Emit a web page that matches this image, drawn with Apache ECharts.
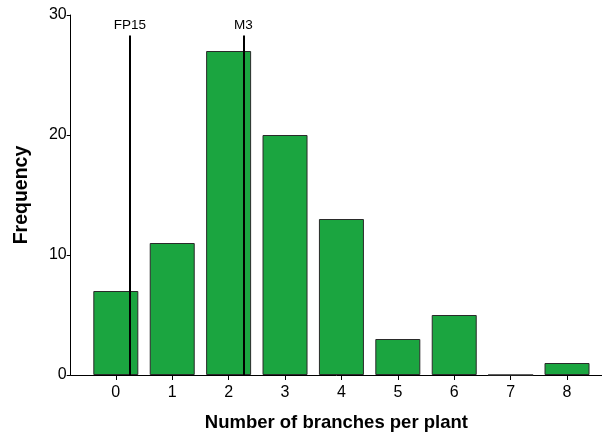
<!DOCTYPE html>
<html>
<head>
<meta charset="utf-8">
<script src="https://cdn.jsdelivr.net/npm/echarts@6/dist/echarts.min.js"></script>
<style>html,body{margin:0;padding:0;background:#fff}#c{width:602px;height:434px}</style>
</head>
<body>
<div id="c"></div>
<script>
var branches = [0, 1, 2, 3, 4, 5, 6, 7, 8];
var frequency = [7, 11, 27, 20, 13, 3, 5, 0, 1];
var markerNames = ['FP15', 'M3'];
var markerPositions = [0.25, 2.26];
var markerTop = 28.3;
var yTicks = [0, 10, 20, 30];

var FONT = 'Arial, "Liberation Sans", sans-serif';
var chart = echarts.init(document.getElementById('c'), null, {renderer: 'canvas'});

var barData = branches.map(function (b, i) { return [b, frequency[i]]; });
var markData = markerNames.map(function (n, i) {
  return [
    {name: n, coord: [markerPositions[i], 0]},
    {coord: [markerPositions[i], markerTop]}
  ];
});

chart.setOption({
  animation: false,
  backgroundColor: '#fff',
  grid: {left: 70.7, right: 0, top: 15, bottom: 59, containLabel: false, outerBoundsMode: 'none'},
  xAxis: {
    type: 'value',
    min: -0.8,
    max: 8.62,
    name: 'Number of branches per plant',
    nameLocation: 'middle',
    nameGap: 38,
    nameTextStyle: {fontFamily: FONT, fontWeight: 'bold', fontSize: 18.5, color: '#000'},
    axisLine: {show: true, onZero: false, lineStyle: {color: '#000', width: 1}},
    axisTick: {show: true, length: 5, customValues: branches, lineStyle: {color: '#000'}},
    axisLabel: {customValues: branches, fontFamily: FONT, fontSize: 16, color: '#000', margin: 10},
    splitLine: {show: false}
  },
  yAxis: {
    type: 'value',
    min: 0,
    max: 30,
    interval: 10,
    name: 'Frequency',
    nameLocation: 'middle',
    nameRotate: 90,
    nameGap: 39,
    nameTextStyle: {fontFamily: FONT, fontWeight: 'bold', fontSize: 19.5, color: '#000'},
    axisLine: {show: true, onZero: false, lineStyle: {color: '#000', width: 1}},
    axisTick: {show: true, length: 4, customValues: yTicks, lineStyle: {color: '#000'}},
    axisLabel: {fontFamily: FONT, fontSize: 16, color: '#000', margin: 4},
    splitLine: {show: false}
  },
  series: [{
    type: 'bar',
    data: barData,
    barWidth: 45,
    itemStyle: {color: '#1ba540', borderColor: '#2a2a2a', borderWidth: 1},
    markLine: {
      silent: true,
      symbol: ['none', 'none'],
      lineStyle: {color: '#000', width: 2, type: 'solid'},
      label: {show: true, position: 'end', formatter: '{b}', fontFamily: FONT, fontSize: 13.5, color: '#000', distance: 3},
      data: markData
    }
  }]
});
</script>
</body>
</html>
